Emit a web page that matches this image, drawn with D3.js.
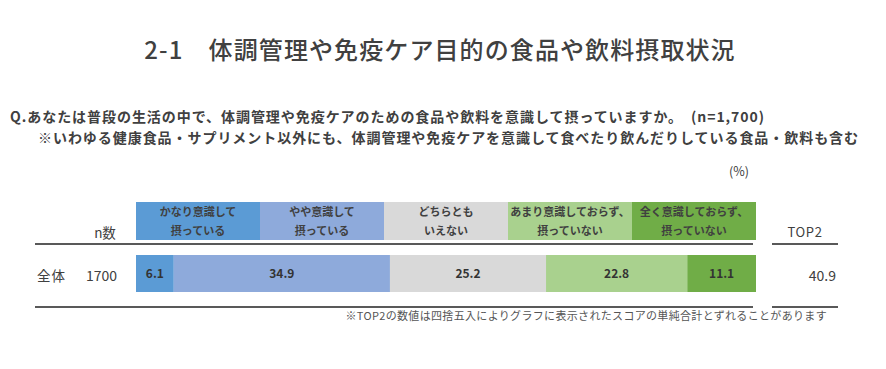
<!doctype html>
<html>
<head>
<meta charset="UTF-8">
<title>体調管理や免疫ケア目的の食品や飲料摂取状況</title>
<script src="https://d3js.org/d3.v7.min.js"></script>
<style>
  body { margin: 0; background: #fff; }
  text { font-family: "Noto Sans CJK JP", "Noto Sans", sans-serif; }
</style>
</head>
<body>
<svg width="886" height="369"></svg>
<script>
var categories = ["かなり意識して\n摂っている", "やや意識して\n摂っている", "どちらとも\nいえない", "あまり意識しておらず、\n摂っていない", "全く意識しておらず、\n摂っていない"];
var values = [6.1, 34.9, 25.2, 22.8, 11.1];
var colors = ["#5b9bd5", "#8eaadb", "#d9d9d9", "#a9d18e", "#70ad47"];
var rowLabel = "全体";
var rowN = 1700;
var top2 = 40.9;

var svg = d3.select("svg");
var textCol = "#404040";

svg.append("text").attr("x", 440).attr("y", 59).attr("text-anchor", "middle")
  .attr("font-size", 24).attr("font-weight", 500).attr("letter-spacing", 1.1).attr("fill", textCol)
  .text("2-1　体調管理や免疫ケア目的の食品や飲料摂取状況");

svg.append("text").attr("x", 10).attr("y", 122).attr("font-size", 14).attr("font-weight", "bold")
  .attr("letter-spacing", 0.95).attr("fill", textCol)
  .text("Q.あなたは普段の生活の中で、体調管理や免疫ケアのための食品や飲料を意識して摂っていますか。　(n=1,700)");
svg.append("text").attr("x", 38).attr("y", 143).attr("font-size", 14).attr("font-weight", "bold")
  .attr("letter-spacing", 0.95).attr("fill", textCol)
  .text("※いわゆる健康食品・サプリメント以外にも、体調管理や免疫ケアを意識して食べたり飲んだりしている食品・飲料も含む");

svg.append("text").attr("x", 739).attr("y", 176).attr("text-anchor", "middle")
  .attr("font-size", 12.5).attr("fill", textCol).text("(%)");

// legend header boxes (equal widths)
var hx = d3.scaleBand().domain(d3.range(categories.length)).range([136, 756]);
var hdr = svg.append("g");
categories.forEach(function(c, i) {
  hdr.append("rect").attr("x", hx(i)).attr("y", 202).attr("width", hx.bandwidth()).attr("height", 38).attr("fill", colors[i]);
  var t = hdr.append("text").attr("text-anchor", "middle").attr("font-size", 11).attr("font-weight", "bold").attr("fill", textCol);
  c.split("\n").forEach(function(line, j) {
    t.append("tspan").attr("x", hx(i) + hx.bandwidth() / 2).attr("y", 216 + j * 19).text(line);
  });
});

svg.append("text").attr("x", 105).attr("y", 238).attr("text-anchor", "middle").attr("font-size", 13.5).attr("fill", textCol).text("n数");
svg.append("text").attr("x", 805).attr("y", 237).attr("text-anchor", "middle").attr("font-size", 13)
  .attr("letter-spacing", 0.6).attr("fill", textCol).text("TOP2");

// rules
[244, 307].forEach(function(y) {
  svg.append("line").attr("x1", 35).attr("x2", 753).attr("y1", y).attr("y2", y).attr("stroke", "#222").attr("stroke-width", 1.5);
  svg.append("line").attr("x1", 772).attr("x2", 838).attr("y1", y).attr("y2", y).attr("stroke", "#222").attr("stroke-width", 1.5);
});

// stacked bar
var total = d3.sum(values);
var x = d3.scaleLinear().domain([0, total]).range([136, 756]);
var cum = 0;
var segs = values.map(function(v, i) { var s = { v: v, x0: cum, x1: cum + v, c: colors[i] }; cum += v; return s; });

var bar = svg.append("g");
bar.selectAll("rect").data(segs).enter().append("rect")
  .attr("x", function(d) { return x(d.x0); })
  .attr("width", function(d) { return x(d.x1) - x(d.x0); })
  .attr("y", 255).attr("height", 37)
  .attr("fill", function(d) { return d.c; });
bar.selectAll("text").data(segs).enter().append("text")
  .attr("x", function(d) { return (x(d.x0) + x(d.x1)) / 2; })
  .attr("y", 278).attr("text-anchor", "middle")
  .attr("font-size", 12).attr("font-weight", "bold").attr("fill", "#333")
  .text(function(d) { return d.v.toFixed(1); });

svg.append("text").attr("x", 37).attr("y", 281).attr("font-size", 13.5).attr("letter-spacing", 1).attr("fill", textCol).text(rowLabel);
svg.append("text").attr("x", 86).attr("y", 281).attr("font-size", 14).attr("fill", textCol).text(rowN);
svg.append("text").attr("x", 836).attr("y", 281).attr("text-anchor", "end").attr("font-size", 14).attr("fill", textCol).text(top2.toFixed(1));

svg.append("text").attr("x", 827).attr("y", 320).attr("text-anchor", "end").attr("font-size", 11)
  .attr("letter-spacing", 0.33).attr("fill", "#555")
  .text("※TOP2の数値は四捨五入によりグラフに表示されたスコアの単純合計とずれることがあります");
</script>
</body>
</html>
